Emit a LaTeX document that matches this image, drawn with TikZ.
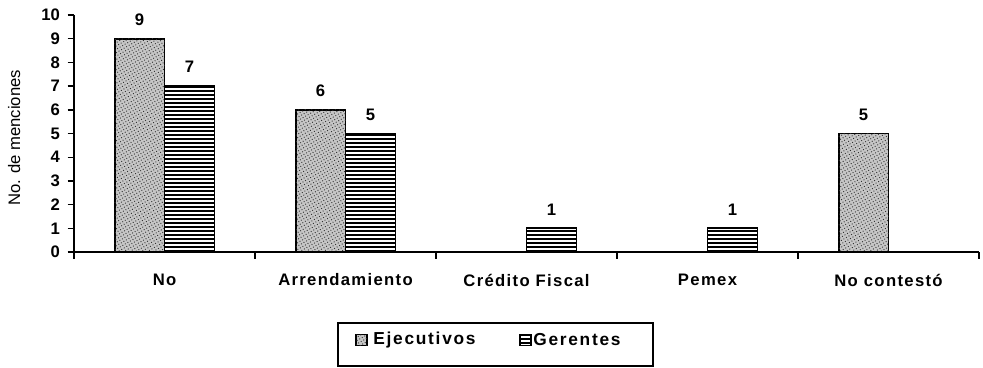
\documentclass[tikz,border=0pt]{standalone}
\usepackage{fontspec}
\setmainfont{Liberation Sans}
\usetikzlibrary{patterns.meta}
\tikzset{ej/.style={draw,line width=1.4pt,fill=gray!45,
            postaction={pattern={Dots[distance=2.2pt,radius=0.5pt,angle=30]},pattern color=black!80}},
         ge/.style={draw,line width=1.4pt,fill=white,
            postaction={pattern={Lines[angle=0,distance=3pt,line width=1pt]}}},
         val/.style={font=\fontsize{12.5}{14}\selectfont\bfseries,inner sep=0pt},
         ylab/.style={font=\fontsize{12.5}{14}\selectfont\bfseries,inner sep=0pt,anchor=east},
         cat/.style={font=\fontsize{12.5}{14}\selectfont\bfseries\addfontfeature{LetterSpace=8},inner sep=0pt},
         leg/.style={font=\fontsize{13}{15}\selectfont\bfseries\addfontfeature{LetterSpace=10},inner sep=0pt,anchor=west}}

\begin{document}
\begin{tikzpicture}[x=135.75pt,y=17.78pt]
\useasboundingbox (-0.409,-4.852) rectangle (5.022,10.633);
% bars
\draw[ej] (0.224,0) rectangle (0.5,9);
\draw[ge] (0.5,0) rectangle (0.776,7);
\draw[ej] (1.224,0) rectangle (1.5,6);
\draw[ge] (1.5,0) rectangle (1.776,5);
\draw[ge] (2.5,0) rectangle (2.776,1);
\draw[ge] (3.5,0) rectangle (3.776,1);
\draw[ej] (4.224,0) rectangle (4.5,5);
% values
\node[val] at (0.362,9.8)(v1){9};
\node[val] at (0.638,7.8)(v2){7};
\node[val] at (1.362,6.8)(v3){6};
\node[val] at (1.638,5.8)(v4){5};
\node[val] at (2.638,1.8)(v5){1};
\node[val] at (3.638,1.8)(v6){1};
\node[val] at (4.362,5.8)(v7){5};
% axes
\draw[line width=1.3pt] (0,10) -- (0,0) -- (5,0);
\foreach \y in {0,...,10}
  {\draw[line width=1.1pt] (-0.035,\y) -- (0,\y);
   \node[ylab] at (-0.077,\y)(t\y){\y};}
\foreach \x in {0,...,5}
  \draw[line width=1.1pt] (\x,0) -- (\x,-0.28);
\node[rotate=90,font=\fontsize{12.5}{14}\selectfont,inner sep=0pt] at (-0.331,4.81)(yl){No. de menciones};
% categories
\node[cat] at (0.5,-1.18)(c1){No};
\node[cat] at (1.5,-1.18)(c2){Arrendamiento};
\node[cat] at (2.5,-1.18)(c3){Crédito Fiscal};
\node[cat] at (3.5,-1.18)(c4){Pemex};
\node[cat] at (4.5,-1.18)(c5){No contestó};
% legend
\draw[line width=1.1pt] (1.459,-3.0) rectangle (3.199,-4.81);
\draw[ej,line width=1pt] (1.558,-3.47) rectangle (1.619,-3.95);
\node[leg] at (1.652,-3.71)(l1){Ejecutivos};
\draw[ge,line width=1pt] (2.464,-3.47) rectangle (2.525,-3.95);
\node[leg] at (2.536,-3.71)(l2){Gerentes};
\end{tikzpicture}
\end{document}
